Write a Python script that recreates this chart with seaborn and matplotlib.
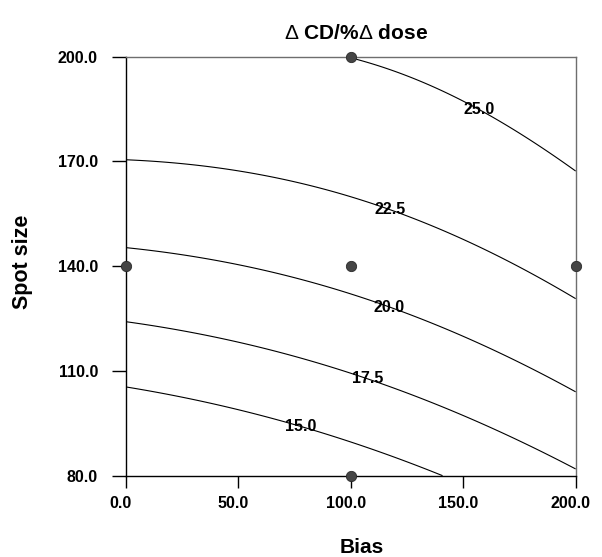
import numpy as np
import pandas as pd
import matplotlib
matplotlib.use("Agg")
import matplotlib.pyplot as plt
import matplotlib.transforms as mtransforms
import seaborn as sns

sns.set_theme(style="white")
plt.rcParams['font.family'] = ['Liberation Sans', 'DejaVu Sans']
plt.rcParams['text.color'] = 'black'
plt.rcParams['axes.labelcolor'] = 'black'
plt.rcParams['xtick.color'] = 'black'
plt.rcParams['ytick.color'] = 'black'
plt.rcParams['mathtext.fontset'] = 'custom'
plt.rcParams['mathtext.rm'] = 'Liberation Sans'
plt.rcParams['mathtext.bf'] = 'Liberation Sans:bold'

# ---- data ----
title = r"$\Delta$ CD/%$\Delta$ dose"
x_label = "Bias"
y_label = "Spot size"
x_ticks = [0, 50, 100, 150, 200]
y_ticks = [80, 110, 140, 170, 200]
levels = [15.0, 17.5, 20.0, 22.5, 25.0]

# design points (Bias, Spot size)
design_bias = [0, 100, 100, 100, 200]
design_spot = [140, 80, 140, 200, 140]

# quadratic response-surface coefficients in coded units
# u = (Bias-100)/100, v = (Spot-140)/60
# terms: const, u, v, u^2, v^2, u*v
coef = [20.7759, 1.9156, 5.6768, 0.5463, -1.4385, -1.1423]

# approximate contour label positions (Bias, Spot size)
label_pos = [(76.9, 92.7), (107.1, 107.0), (116.9, 127.7), (116.9, 155.4), (156.9, 184.6)]

# ---- figure ----
fig = plt.figure(figsize=(6.02, 5.57), dpi=100)
ax = fig.add_axes([0.2088, 0.146, 0.7475, 0.7522])

bias_grid = np.linspace(0, 200, 301)
spot_grid = np.linspace(80, 200, 301)
B, S = np.meshgrid(bias_grid, spot_grid)
U = (B - 100) / 100
V = (S - 140) / 60
Z = coef[0] + coef[1]*U + coef[2]*V + coef[3]*U**2 + coef[4]*V**2 + coef[5]*U*V

cs = ax.contour(B, S, Z, levels=levels, colors='black', linewidths=0.8)
texts = ax.clabel(cs, inline=False, fmt='%.1f', fontsize=11.5, manual=label_pos)
for t in texts:
    t.set_rotation(0)
    t.set_fontweight('bold')
    t.set_color('black')

pts = pd.DataFrame({"Bias": design_bias, "Spot size": design_spot})
sns.scatterplot(data=pts, x="Bias", y="Spot size", ax=ax, color='#454545',
                edgecolor='#2a2a2a', linewidth=0.6, s=55, zorder=5, clip_on=False)

ax.set_xlim(0, 200)
ax.set_ylim(80, 200)
ax.set_xticks(x_ticks)
ax.set_yticks(y_ticks)
ax.set_xticklabels([f"{v:.1f}" for v in x_ticks])
ax.set_yticklabels([f"{v:.1f}" for v in y_ticks])
ax.set_xlabel("")
ax.set_ylabel("")

for side in ['left', 'bottom']:
    ax.spines[side].set_color('black')
    ax.spines[side].set_linewidth(1.0)
for side in ['top', 'right']:
    ax.spines[side].set_color('#6e6e6e')
    ax.spines[side].set_linewidth(1.0)

ax.tick_params(axis='x', direction='out', length=8.4, width=1, pad=6,
               labelsize=11.5, colors='black', bottom=True)
ax.tick_params(axis='y', direction='out', length=10, width=1, pad=10,
               labelsize=11.5, colors='black', left=True)
for lab in ax.get_xticklabels() + ax.get_yticklabels():
    lab.set_fontweight('bold')
    lab.set_color('black')
off = mtransforms.ScaledTranslation(-5/100, 0, fig.dpi_scale_trans)
for lab in ax.get_xticklabels():
    lab.set_transform(lab.get_transform() + off)

fig.text(0.5914, (557-39.3)/557, title, ha='center', va='baseline',
         fontsize=15, fontweight='bold', color='black')
fig.text(362/602, (557-552.7)/557, x_label, ha='center', va='baseline',
         fontsize=15, fontweight='bold', color='black')
fig.text(22.5/602, 1-262/557, y_label, ha='center', va='center', rotation=90,
         fontsize=15.5, fontweight='bold', color='black')

fig.savefig("out.png", dpi=100)
